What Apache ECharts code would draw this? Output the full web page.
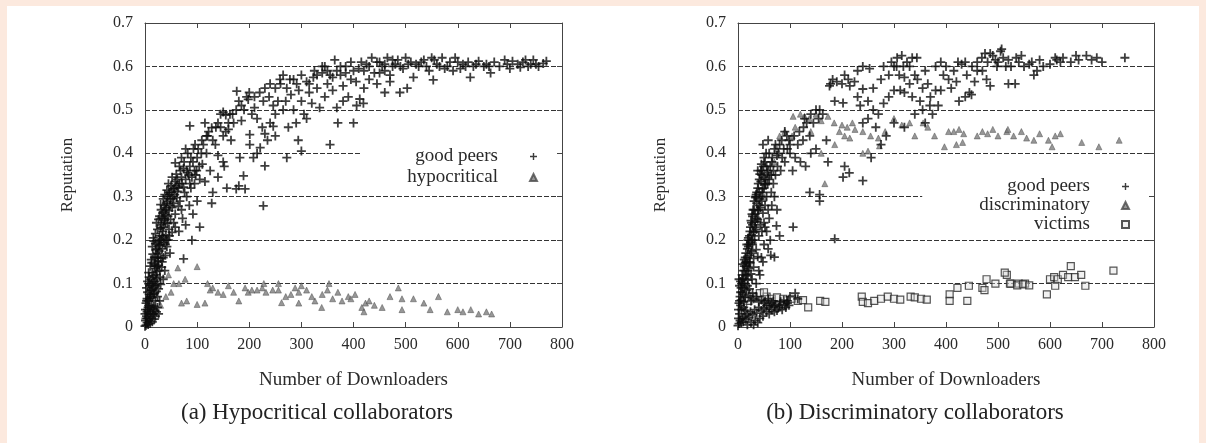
<!DOCTYPE html>
<html>
<head>
<meta charset="utf-8">
<script src="https://cdn.jsdelivr.net/npm/echarts@6/dist/echarts.min.js"></script>
<style>
    body { margin: 0; background: #fce9de; }
    #panel { position: absolute; left: 7px; top: 6px; width: 1192px; height: 437px; background: #ffffff; }
    #chart { position: absolute; left: 0; top: 0; width: 1206px; height: 443px; }
</style>
</head>
<body>
<div id="panel"></div>
<div id="chart"></div>
<script>
//// values: [downloaders, reputation] ////
var leftGoodPeers = [
    [0,0.002],[2,0.004],[4,0.01],[6,0.006],[8,0.015],[10,0.008],[12,0.02],[14,0.012],[16,0.03],[18,0.018],
    [20,0.025],[22,0.035],[3,0.025],[5,0.04],[7,0.03],[9,0.045],[11,0.035],[13,0.05],[15,0.042],[17,0.048],
    [19,0.038],[24,0.045],[26,0.03],[1,0.015],[0,0.03],
    [2,0.055],[4,0.065],[6,0.06],[8,0.075],[10,0.07],[12,0.085],[14,0.068],[16,0.09],[18,0.078],[20,0.095],
    [22,0.082],[24,0.07],[26,0.088],[28,0.06],[30,0.098],[5,0.08],[9,0.095],[13,0.1],[3,0.09],[7,0.1],
    [5,0.105],[8,0.115],[11,0.11],[14,0.125],[17,0.118],[20,0.135],[23,0.128],[26,0.142],[29,0.115],[32,0.138],
    [35,0.11],[10,0.14],[13,0.148],[16,0.105],[19,0.145],[22,0.112],[38,0.13],[7,0.125],
    [12,0.155],[15,0.168],[18,0.16],[21,0.178],[24,0.17],[27,0.188],[30,0.158],[33,0.18],[36,0.195],[39,0.165],
    [42,0.185],[45,0.2],[14,0.185],[17,0.198],[20,0.192],[25,0.152],[28,0.2],[48,0.17],[35,0.16],
    [16,0.205],[20,0.215],[24,0.225],[28,0.21],[31,0.235],[34,0.22],[37,0.245],[40,0.212],[43,0.238],[46,0.225],
    [49,0.248],[52,0.218],[55,0.24],[22,0.24],[26,0.248],[30,0.228],[58,0.23],[36,0.205],
    [28,0.255],[31,0.27],[34,0.262],[37,0.28],[40,0.258],[43,0.29],[46,0.268],[49,0.295],[52,0.275],[55,0.285],
    [58,0.26],[61,0.298],[64,0.278],[67,0.29],[35,0.295],[41,0.275],[30,0.282],[70,0.27],
    [38,0.305],[42,0.315],[46,0.31],[50,0.325],[54,0.318],[58,0.335],[62,0.312],[66,0.33],[70,0.345],[74,0.322],
    [78,0.34],[82,0.355],[45,0.33],[52,0.345],[60,0.352],[68,0.36],[86,0.33],[90,0.345],
    [1,0.04],[3,0.06],[5,0.02],[7,0.05],[9,0.065],[11,0.075],[13,0.085],[15,0.095],[17,0.075],[19,0.105],
    [21,0.12],[23,0.14],[25,0.16],[27,0.175],[29,0.19],[31,0.2],[33,0.21],[35,0.23],[37,0.25],[39,0.27],
    [41,0.285],[43,0.3],[47,0.305],[51,0.31],[56,0.32],[60,0.325],[18,0.14],[21,0.16],[24,0.18],[26,0.195],
    [32,0.25],[35,0.265],[39,0.24],[44,0.255],[48,0.28],[53,0.295],[57,0.305],[47,0.21],[42,0.2],[39,0.19],
    [33,0.15],[28,0.13],[24,0.1],[20,0.06],[15,0.03],[10,0.03],[6,0.045],[4,0.035],[2,0.02],
    [58,0.378],[74,0.365],[86,0.37],[99,0.36],[105,0.34],[93,0.41],[86,0.463],[109,0.43],[128,0.459],[128,0.285],
    [105,0.23],[90,0.2],[74,0.157],[150,0.38],[152,0.37],[157,0.32],[182,0.39],[189,0.348],[201,0.443],[201,0.42],
    [208,0.39],[221,0.413],[227,0.279],[230,0.371],[180,0.325],[175,0.318],[192,0.318],[145,0.49],[150,0.495],[155,0.488],
    [163,0.49],[160,0.455],[176,0.543],[198,0.524],[227,0.52],[238,0.53],[246,0.51],[246,0.462],[259,0.57],[272,0.39],
    [278,0.57],[272,0.55],[291,0.56],[310,0.565],[323,0.575],[340,0.585],[355,0.42],[294,0.43],[300,0.405],[120,0.44],
    [135,0.42],[115,0.47],[118,0.4],[100,0.39],[110,0.375],[125,0.36],[140,0.345],[95,0.33],[80,0.3],[85,0.28],
    [72,0.25],[65,0.22],[78,0.235],[92,0.26],[100,0.29],[115,0.335],[130,0.31],[140,0.395],[165,0.43],[170,0.47],
    [185,0.475],[190,0.5],[205,0.49],[210,0.505],[215,0.48],[225,0.46],[230,0.445],[240,0.47],[250,0.49],[255,0.52],
    [265,0.5],[270,0.52],[280,0.535],[285,0.5],[295,0.545],[300,0.52],[305,0.49],[315,0.54],[320,0.515],[330,0.55],
    [335,0.505],[345,0.53],[350,0.56],[360,0.545],[368,0.505],[368,0.59],[364,0.615],[375,0.58],[380,0.555],[390,0.53],
    [400,0.47],[406,0.51],[412,0.525],[419,0.515],[420,0.55],[430,0.57],[440,0.585],[445,0.56],[455,0.6],[460,0.59],
    [470,0.58],[480,0.605],[489,0.54],[495,0.595],[503,0.55],[510,0.61],[515,0.575],[525,0.6],[535,0.615],[545,0.59],
    [553,0.569],[560,0.605],[570,0.62],[580,0.6],[591,0.59],[600,0.61],[610,0.605],[624,0.575],[630,0.6],[640,0.612],
    [650,0.6],[663,0.585],[670,0.61],[680,0.6],[690,0.615],[700,0.595],[715,0.605],[725,0.61],[735,0.6],[745,0.615],
    [755,0.6],[764,0.607],[385,0.6],[395,0.61],[410,0.595],[425,0.605],[435,0.62],[450,0.61],[465,0.62],[475,0.6],
    [485,0.615],[500,0.62],[520,0.605],[540,0.6],[555,0.615],[575,0.595],[595,0.62],[605,0.595],[620,0.61],[655,0.605],
    [705,0.612],[720,0.598],[740,0.605],[360,0.575],[350,0.59],[340,0.6],[330,0.58],[395,0.57],[405,0.565],[420,0.59],
    [450,0.585],[470,0.565],[460,0.54],[380,0.52],[370,0.47],
    [62,0.34],[66,0.37],[70,0.39],[75,0.38],[78,0.41],[82,0.4],[88,0.39],[92,0.38],[96,0.42],[102,0.41],
    [108,0.4],[112,0.42],[118,0.44],[122,0.45],[80,0.36],[84,0.35],[95,0.36],[64,0.32],[71,0.33],[76,0.31],
    [88,0.32],[97,0.35],[104,0.37],[130,0.43],[136,0.46],[140,0.47],[145,0.46],[150,0.44],[155,0.45],[160,0.47],
    [168,0.49],[175,0.5],[180,0.52],[185,0.51],[195,0.53],[200,0.54],[210,0.53],[220,0.54],[230,0.55],[240,0.56],
    [250,0.55],[260,0.56],[265,0.58],[285,0.57],[300,0.58],[315,0.56],[325,0.59],[345,0.6],[355,0.58],[375,0.6],
    [385,0.585],[400,0.59],[415,0.61],[430,0.6],[445,0.61],[460,0.605],[475,0.615],[490,0.6],[505,0.605],[530,0.61],
    [550,0.62],[565,0.6],[585,0.61],[615,0.6],[635,0.605],[660,0.6],[695,0.605],[730,0.615],[750,0.605],[770,0.612],
    [215,0.4],[235,0.43],[250,0.44],[275,0.46],[290,0.47],[310,0.48]
];

var leftHypocritical = [
    [63,0.136],[100,0.139],[65,0.1],[77,0.11],[70,0.055],[80,0.06],[100,0.052],[115,0.055],[125,0.085],[130,0.09],
    [140,0.08],[192,0.09],[198,0.08],[205,0.085],[215,0.085],[225,0.09],[232,0.08],[245,0.085],[256,0.085],[256,0.1],
    [228,0.1],[262,0.056],[288,0.09],[295,0.08],[300,0.095],[310,0.085],[295,0.055],[326,0.06],[339,0.045],[353,0.1],
    [350,0.085],[370,0.08],[378,0.06],[390,0.07],[395,0.065],[403,0.075],[416,0.045],[420,0.035],[423,0.055],[486,0.09],
    [493,0.065],[493,0.04],[515,0.065],[547,0.04],[563,0.07],[600,0.04],[610,0.035],[625,0.04],[640,0.03],[655,0.035],
    [665,0.03],[580,0.035],[45,0.12],[50,0.08],[40,0.07],[55,0.1],[30,0.05],[150,0.075],[160,0.095],[170,0.08],
    [180,0.06],[120,0.1],[270,0.07],[280,0.075],[320,0.07],[340,0.075],[360,0.065],[430,0.06],[440,0.05],[455,0.045],
    [470,0.07],[535,0.055]
];

var rightGoodPeers = [
    [0,0.003],[2,0.008],[4,0.015],[6,0.01],[8,0.02],[10,0.012],[12,0.025],[15,0.018],[18,0.03],[21,0.022],
    [24,0.035],[28,0.028],[32,0.04],[36,0.032],[40,0.045],[45,0.038],[50,0.042],[55,0.035],[60,0.045],[65,0.04],
    [70,0.048],[3,0.03],[7,0.04],[11,0.045],[14,0.038],[1,0.02],[5,0.05],[80,0.05],[90,0.052],[75,0.038],
    [55,0.05],[60,0.03],[65,0.055],[70,0.035],[78,0.045],[85,0.04],[92,0.045],[98,0.05],[48,0.025],[52,0.06],
    [58,0.065],[62,0.05],[68,0.06],[72,0.052],[82,0.058],[88,0.062],[95,0.055],
    [2,0.055],[4,0.07],[6,0.062],[8,0.08],[10,0.075],[12,0.09],[14,0.068],[16,0.085],[18,0.095],[20,0.072],
    [22,0.088],[25,0.06],[28,0.078],[3,0.095],[7,0.1],[11,0.058],[30,0.065],[35,0.07],[40,0.058],[45,0.062],
    [50,0.055],[100,0.07],[110,0.078],[95,0.06],
    [5,0.105],[8,0.12],[11,0.112],[13,0.13],[15,0.118],[17,0.14],[19,0.108],[21,0.135],[23,0.148],[25,0.122],
    [9,0.145],[27,0.11],[30,0.138],[14,0.148],[2,0.11],[35,0.1],[40,0.13],[42,0.12],[48,0.15],
    [12,0.155],[15,0.17],[18,0.16],[20,0.185],[22,0.165],[24,0.195],[26,0.175],[28,0.19],[30,0.158],[32,0.2],
    [35,0.178],[17,0.19],[38,0.162],[70,0.161],[45,0.16],[50,0.19],[58,0.18],[63,0.165],
    [20,0.205],[23,0.22],[26,0.212],[28,0.235],[30,0.218],[33,0.242],[35,0.225],[38,0.248],[40,0.21],[43,0.235],
    [46,0.22],[25,0.245],[50,0.24],[74,0.233],[106,0.23],[186,0.203],[80,0.21],[55,0.22],[62,0.2],[52,0.23],
    [28,0.255],[31,0.27],[33,0.26],[36,0.285],[38,0.268],[41,0.295],[43,0.275],[46,0.29],[48,0.262],[52,0.28],
    [55,0.3],[34,0.298],[58,0.27],[60,0.25],[65,0.28],[70,0.3],[75,0.27],
    [35,0.305],[38,0.32],[41,0.31],[44,0.335],[47,0.318],[50,0.345],[53,0.328],[56,0.355],[60,0.34],[64,0.31],
    [68,0.33],[72,0.35],[42,0.352],[138,0.31],[157,0.29],[157,0.305],[202,0.345],[214,0.355],[240,0.337],
    [1,0.04],[3,0.06],[5,0.08],[6,0.09],[8,0.1],[9,0.11],[10,0.13],[12,0.14],[14,0.16],[16,0.15],
    [18,0.18],[19,0.2],[21,0.19],[22,0.21],[24,0.23],[26,0.24],[27,0.26],[29,0.27],[31,0.29],[33,0.3],
    [36,0.31],[39,0.33],[41,0.34],[44,0.36],[46,0.35],[49,0.37],[52,0.38],[13,0.1],[16,0.12],[19,0.13],
    [22,0.15],[25,0.17],[27,0.2],[30,0.22],[33,0.23],[36,0.25],[39,0.27],[41,0.28],[44,0.3],[47,0.31],
    [50,0.32],[53,0.34],[57,0.33],[18,0.005],[25,0.01],[33,0.015],[42,0.02],[38,0.01],[30,0.005],
    [38,0.36],[45,0.375],[50,0.39],[55,0.37],[60,0.4],[65,0.38],[70,0.41],[75,0.395],[80,0.42],[85,0.39],
    [90,0.45],[95,0.41],[100,0.4],[48,0.42],[58,0.43],[68,0.36],[110,0.39],[120,0.38],[130,0.37],[140,0.4],
    [105,0.36],[115,0.42],[125,0.43],[173,0.38],[205,0.37],[256,0.39],[138,0.44],[170,0.43],[150,0.41],
    [62,0.37],[66,0.39],[72,0.42],[78,0.4],[84,0.43],[88,0.41],[94,0.44],[98,0.43],[76,0.37],[82,0.36],
    [90,0.38],[54,0.4],[46,0.36],[52,0.33],[58,0.36],[64,0.35],[100,0.42],[108,0.44],[118,0.45],[126,0.46],
    [132,0.47],[145,0.47],[155,0.48],
    [128,0.48],[140,0.49],[150,0.5],[157,0.5],[163,0.49],[176,0.555],[182,0.57],[205,0.58],[215,0.555],[230,0.59],
    [240,0.6],[253,0.595],[186,0.52],[202,0.516],[230,0.53],[235,0.51],[178,0.56],[190,0.565],[200,0.56],[212,0.57],
    [224,0.565],[240,0.548],[250,0.52],[260,0.5],[240,0.47],[250,0.48],[270,0.49],[260,0.55],[275,0.57],[290,0.58],
    [300,0.6],[306,0.62],[315,0.625],[325,0.61],[335,0.62],[344,0.62],[310,0.58],[320,0.575],[330,0.56],[345,0.57],
    [355,0.55],[365,0.56],[312,0.545],[320,0.54],[335,0.53],[350,0.52],[370,0.53],[380,0.545],[374,0.49],[369,0.51],
    [385,0.51],[395,0.58],[405,0.57],[415,0.59],[423,0.61],[430,0.605],[437,0.61],[437,0.53],[449,0.535],[440,0.58],
    [450,0.6],[455,0.565],[460,0.59],[469,0.62],[475,0.63],[485,0.63],[495,0.615],[470,0.59],[478,0.57],[485,0.555],
    [498,0.6],[505,0.635],[510,0.62],[520,0.615],[520,0.56],[533,0.56],[540,0.61],[550,0.6],[560,0.605],[569,0.58],
    [575,0.59],[587,0.6],[600,0.605],[613,0.615],[625,0.62],[640,0.61],[655,0.615],[670,0.625],[690,0.62],[700,0.61],
    [744,0.62],[507,0.64],[515,0.6],[300,0.545],[280,0.515],[290,0.53],[265,0.46],[285,0.44],[300,0.47],[320,0.46],
    [275,0.42],[340,0.49],[360,0.47],[355,0.5],[390,0.545],[410,0.55],[420,0.565],[425,0.52],[445,0.54],[115,0.065],
    [280,0.6],[295,0.61],[305,0.6],[318,0.6],[330,0.6],[340,0.58],[360,0.59],[380,0.6],[390,0.61],[400,0.6],
    [460,0.61],[480,0.61],[490,0.625],[500,0.61],[525,0.6],[535,0.62],[545,0.625],[565,0.61],[580,0.615],[610,0.62],
    [620,0.61],[650,0.625],[680,0.615]
];

var rightDiscriminatory = [
    [120,0.49],[128,0.485],[137,0.48],[150,0.49],[160,0.475],[173,0.485],[185,0.47],[200,0.465],[210,0.46],[220,0.47],
    [195,0.45],[205,0.44],[215,0.435],[225,0.455],[240,0.45],[255,0.44],[270,0.435],[283,0.45],[300,0.48],[315,0.465],
    [330,0.47],[340,0.44],[356,0.47],[365,0.46],[378,0.44],[397,0.415],[405,0.45],[415,0.45],[425,0.455],[434,0.445],
    [420,0.42],[432,0.425],[460,0.44],[470,0.45],[480,0.445],[490,0.455],[500,0.44],[517,0.45],[519,0.455],[530,0.44],
    [545,0.45],[555,0.435],[569,0.43],[580,0.445],[597,0.43],[604,0.415],[610,0.44],[620,0.445],[661,0.425],[694,0.415],
    [733,0.43],[104,0.44],[90,0.45],[75,0.41],[167,0.33],[240,0.4],[250,0.405],[272,0.417],[186,0.42],[160,0.4],
    [140,0.45],[60,0.35],[50,0.3],[40,0.25],[30,0.2],[20,0.15],[70,0.38],[80,0.44],[110,0.46],[106,0.485]
];

var rightVictims = [
    [42,0.078],[55,0.07],[65,0.065],[75,0.068],[87,0.065],[87,0.05],[104,0.065],[115,0.06],[125,0.062],[135,0.045],
    [158,0.06],[168,0.058],[238,0.07],[240,0.058],[250,0.055],[262,0.06],[275,0.065],[288,0.07],[300,0.065],[312,0.063],
    [332,0.07],[340,0.068],[352,0.065],[363,0.063],[407,0.075],[407,0.06],[422,0.09],[441,0.06],[444,0.095],[470,0.09],
    [478,0.11],[474,0.085],[495,0.1],[517,0.12],[525,0.1],[540,0.1],[552,0.1],[513,0.125],[523,0.1],[537,0.096],
    [548,0.098],[560,0.096],[594,0.075],[600,0.11],[608,0.115],[615,0.11],[625,0.12],[635,0.115],[640,0.14],[648,0.115],
    [660,0.12],[610,0.095],[668,0.095],[722,0.13],[20,0.06],[30,0.07],[10,0.05],[50,0.08]
];

var captions = ['(a) Hypocritical collaborators', '(b) Discriminatory collaborators'];
var leftKeys = ['good peers', 'hypocritical'];
var rightKeys = ['good peers', 'discriminatory', 'victims'];

var serif = '"Liberation Serif", "Times New Roman", serif';
var plusPath = 'path://M4,0h2v4h4v2h-4v4h-2v-4h-4v-2h4z';
var ink = '#2a2a2a';

function xAxisFor(gridIndex, onTop) {
    return {
        type: 'value', gridIndex: gridIndex, min: 0, max: 800, interval: 100,
        position: onTop ? 'top' : 'bottom',
        name: onTop ? '' : 'Number of Downloaders',
        nameLocation: 'middle', nameGap: 44,
        nameTextStyle: { fontFamily: serif, fontSize: 19, color: ink },
        axisLine: { show: true, onZero: false, lineStyle: { color: '#444', width: 1 } },
        axisTick: { show: true, inside: true, length: 5, lineStyle: { color: '#444' } },
        axisLabel: { show: !onTop, margin: 10, fontFamily: serif, fontSize: 16, color: ink },
        splitLine: { show: false }
    };
}

function yAxisFor(gridIndex, onRight) {
    return {
        type: 'value', gridIndex: gridIndex, min: 0, max: 0.7, interval: 0.1,
        position: onRight ? 'right' : 'left',
        name: onRight ? '' : 'Reputation',
        nameLocation: 'middle', nameGap: 69,
        nameTextStyle: { fontFamily: serif, fontSize: 17, color: ink },
        axisLine: { show: true, onZero: false, lineStyle: { color: '#444', width: 1 } },
        axisTick: { show: true, inside: true, length: 5, lineStyle: { color: '#444' } },
        axisLabel: {
            show: !onRight, margin: 12, fontFamily: serif, fontSize: 16, color: ink,
            formatter: function (v) { return v === 0 ? '0' : v.toFixed(1); }
        },
        splitLine: { show: !onRight, lineStyle: { color: '#333', width: 1, type: [5, 2] } }
    };
}

function scatter(name, data, gi, symbol, size, style) {
    return {
        name: name, type: 'scatter', xAxisIndex: gi, yAxisIndex: gi,
        data: data, symbol: symbol, symbolSize: size, itemStyle: style,
        emphasis: { disabled: true }, z: 2
    };
}

var plusStyle = { color: '#0d0d0d' };
var triStyle = { color: '#7d7d7d', borderColor: '#4a4a4a', borderWidth: 0.6 };
var boxStyle = { color: 'rgba(220,220,220,0.5)', borderColor: '#2a2a2a', borderWidth: 1.2 };

function keyBox(keys, right, top, gap, padding) {
    return {
        data: keys, orient: 'vertical', align: 'right', selectedMode: false,
        right: right, top: top, itemGap: gap, itemWidth: 7, itemHeight: 7,
        padding: padding, backgroundColor: '#ffffff', z: 4,
        textStyle: { fontFamily: serif, fontSize: 19, lineHeight: 18, color: ink, padding: [0, 27, 0, 0] }
    };
}

var myChart = echarts.init(document.getElementById('chart'));

option = {
    animation: false,
    grid: [
        { left: 145, top: 23, width: 417, height: 304 },
        { left: 738, top: 23, width: 416, height: 304 }
    ],
    xAxis: [xAxisFor(0, false), xAxisFor(1, false), xAxisFor(0, true), xAxisFor(1, true)],
    yAxis: [yAxisFor(0, false), yAxisFor(1, false), yAxisFor(0, true), yAxisFor(1, true)],
    legend: [
        keyBox(leftKeys, 650, 143, 2, [4, 18, 4, 46]),
        keyBox(rightKeys, 57, 173, 0, [4, 19, 4, 57])
    ],
    graphic: [
        { type: 'text', x: 317, y: 413, style: { text: captions[0], font: '23px ' + serif, fill: '#222', align: 'center', verticalAlign: 'middle' } },
        { type: 'text', x: 915, y: 413, style: { text: captions[1], font: '23px ' + serif, fill: '#222', align: 'center', verticalAlign: 'middle' } }
    ],
    series: [
        scatter('hypocritical', leftHypocritical, 0, 'triangle', 6, triStyle),
        scatter('good peers', leftGoodPeers, 0, plusPath, 9, plusStyle),
        scatter('discriminatory', rightDiscriminatory, 1, 'triangle', 6, triStyle),
        scatter('victims', rightVictims, 1, 'rect', 7, boxStyle),
        scatter('good peers', rightGoodPeers, 1, plusPath, 9, plusStyle)
    ]
};

myChart.setOption(option);
</script>
</body>
</html>
